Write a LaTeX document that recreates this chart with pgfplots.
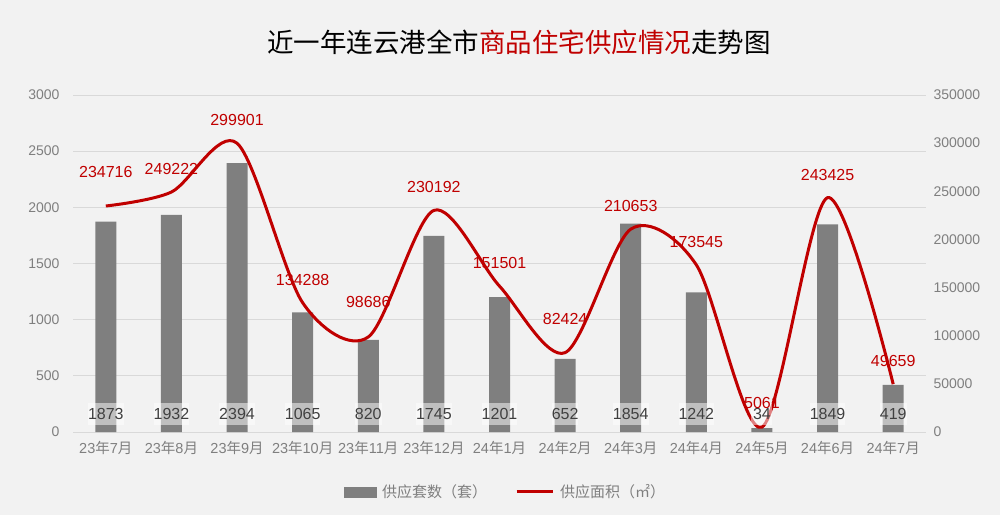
\documentclass[border=0pt]{standalone}
\usepackage{pgfplots}
\pgfplotsset{compat=1.18}
\usepackage{pgfplotstable}
\usepackage{fontspec}
\setmainfont{Liberation Sans}
\newfontfamily\cjk{Noto Sans CJK SC}

\definecolor{bg}{HTML}{F2F2F2}
\definecolor{bargray}{HTML}{7F7F7F}
\definecolor{linered}{HTML}{C00000}
\definecolor{ticktext}{HTML}{7F7F7F}
\definecolor{gridc}{HTML}{D9D9D9}
\definecolor{lbltext}{HTML}{404040}

% x, units (sets), area (m2), pos = height of the value box on the right scale,
% dy = lift of the area label above its point
\pgfplotstableread{
x units area pos dy
0 1873 234716 18667 34
1 1932 249222 18667 23
2 2394 299901 18667 23
3 1065 134288 18667 23
4 820 98686 18667 35
5 1745 230192 18667 23
6 1201 151501 18667 23
7 652 82424 18667 34
8 1854 210653 18667 23
9 1242 173545 18667 23
10 34 5061 18667 24
11 1849 243425 18667 23
12 419 49659 18667 23
}\supply

\newcommand\ym[2]{#1{\cjk 年}#2{\cjk 月}}

\pgfplotsset{
  common/.style={
    at={(73pt,83pt)}, anchor=south west,
    scale only axis, width=853pt, height=337pt,
    xmin=-0.5, xmax=12.5,
    axis line style={draw=none},
    tick style={draw=none},
    scaled y ticks=false,
    tick label style={font=\fontsize{14}{16}\selectfont, text=ticktext},
    /pgf/number format/fixed,
    /pgf/number format/assume math mode=true,
    /pgf/number format/1000 sep={},
  }
}

\begin{document}
\begin{tikzpicture}[x=1pt,y=1pt]
\fill[bg] (0,0) rectangle (1000,515);
\node[font=\cjk\fontsize{26.5}{29}\selectfont] at (519,473)
  {近一年连云港全市\textcolor{linered}{商品住宅供应情况}走势图};

\begin{axis}[common,
  ymin=0, ymax=3000, ytick={0,500,...,3000},
  ymajorgrids, grid style={gridc, line width=1pt},
  yticklabel style={xshift=-10pt},
  xtick={0,...,12},
  xticklabels={\ym{23}{7},\ym{23}{8},\ym{23}{9},\ym{23}{10},\ym{23}{11},\ym{23}{12},
    \ym{24}{1},\ym{24}{2},\ym{24}{3},\ym{24}{4},\ym{24}{5},\ym{24}{6},\ym{24}{7}},
  xticklabel style={yshift=-6pt, font=\fontsize{14.5}{17}\selectfont},
]
\addplot[ybar, bar width=21pt, fill=bargray, draw=none] table[x=x, y=units]{\supply};
\end{axis}

\begin{axis}[common,
  ymin=0, ymax=350000, ytick={0,50000,...,350000},
  axis y line*=right, hide x axis,
  yticklabel style={xshift=4pt},
  legend columns=2,
  legend style={at={(0.507,-0.178)}, anchor=center, draw=none, fill=none,
    font=\cjk\fontsize{15}{17}\selectfont, text=ticktext,
    /tikz/every odd column/.append style={column sep=4pt},
    /tikz/every even column/.append style={column sep=26pt}},
]
\addlegendimage{legend image code/.code={\fill[bargray] (0pt,-5pt) rectangle (32pt,5pt);}}
\addlegendentry{供应套数（套）}
\addplot[linered, line width=3pt, smooth, mark=none,
  legend image code/.code={\draw[linered, line width=3pt] (0pt,0pt) -- (36pt,0pt);}]
  table[x=x, y=area]{\supply};
\addlegendentry{供应面积（㎡）}
\addplot[forget plot, draw=none, mark=none, nodes near coords,
  point meta=explicit symbolic,
  every node near coord/.style={anchor=center, fill=white, fill opacity=0.5,
    text opacity=1, text=lbltext, minimum width=21pt, minimum height=22pt,
    inner sep=0pt, font=\fontsize{16}{18}\selectfont}]
  table[x=x, y=pos, meta=units]{\supply};
\addplot[forget plot, draw=none, mark=none, nodes near coords,
  point meta=explicit symbolic,
  visualization depends on={\thisrow{dy} \as \dy},
  every node near coord/.style={anchor=center, yshift=\dy pt, text=linered,
    font=\fontsize{16}{18}\selectfont}]
  table[x=x, y=area, meta=area]{\supply};
\end{axis}
\end{tikzpicture}
\end{document}
